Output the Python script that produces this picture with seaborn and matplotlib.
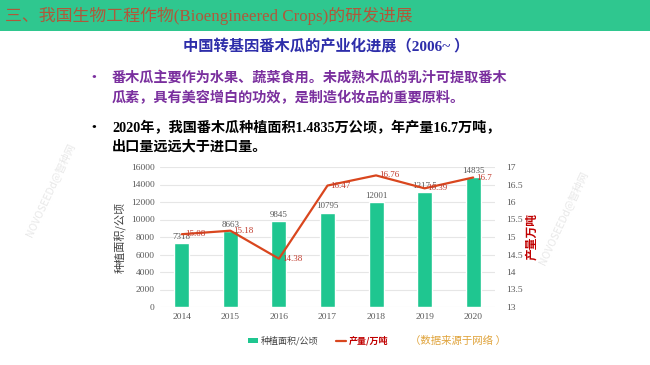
import numpy as np
import pandas as pd
import matplotlib
matplotlib.use("Agg")
import matplotlib.pyplot as plt
import seaborn as sns
from matplotlib.patches import Rectangle
from matplotlib.lines import Line2D
from matplotlib.patches import Patch

years = ["2014", "2015", "2016", "2017", "2018", "2019", "2020"]
area = [7318, 8663, 9845, 10795, 12001, 13175, 14835]
area_labels = ["7318", "8663", "9845", "10795", "12001", "1317.5", "14835"]
production = [15.08, 15.18, 14.38, 16.47, 16.76, 16.39, 16.7]
prod_labels = ["15.08", "15.18", "14.38", "16.47", "16.76", "16.39", "16.7"]

left_ticks = [0, 2000, 4000, 6000, 8000, 10000, 12000, 14000, 16000]
right_ticks = [13, 13.5, 14, 14.5, 15, 15.5, 16, 16.5, 17]

header_text = "三、我国生物工程作物(Bioengineered Crops)的研发进展"
subtitle = "中国转基因番木瓜的产业化进展（2006~ ）"
bullet1 = ["番木瓜主要作为水果、蔬菜食用。未成熟木瓜的乳汁可提取番木",
           "瓜素，具有美容增白的功效，是制造化妆品的重要原料。"]
bullet2 = ["2020年，我国番木瓜种植面积1.4835万公顷，年产量16.7万吨，",
           "出口量远远大于进口量。"]
left_label = "种植面积/公顷"
right_label = "产量万吨"
legend_labels = ["种植面积/公顷", "产量/万吨"]
source = "（数据来源于网络 ）"
watermark = "NOVOSEEDd@智种网"

sns.set_theme(style="white")
plt.rcParams['font.family'] = ['Liberation Serif', 'Noto Sans CJK SC', 'DejaVu Sans']
CJK = ['Noto Sans CJK SC', 'DejaVu Sans']
SERIF = ['Liberation Serif', 'Noto Sans CJK SC', 'DejaVu Sans']

W, H = 650, 365
fig = plt.figure(figsize=(6.5, 3.65), dpi=100)
fig.patch.set_facecolor("white")

def fx(x):
    return x / W

def fy(y):
    return 1 - y / H

# header band
fig.patches.append(Rectangle((0, fy(31)), 1, 31 / H, transform=fig.transFigure,
                             facecolor="#2fc78f", edgecolor="none", zorder=0))
fig.text(fx(5), fy(16), header_text, family=SERIF, fontsize=12.2, color="#b0583a",
         va="center", ha="left")
fig.text(fx(326), fy(47), subtitle, family=SERIF, fontsize=11, color="#2e2eaa",
         fontweight="bold", va="center", ha="center")

purple = "#7a2f9e"
for i, line in enumerate(bullet1):
    fig.text(fx(112), fy(78 + 20 * i), line, family=CJK, fontsize=10.2, color=purple,
             fontweight="bold", va="center", ha="left")
fig.text(fx(94), fy(78), "•", family=CJK, fontsize=12, color=purple, va="center", ha="center")
for i, line in enumerate(bullet2):
    fig.text(fx(112), fy(128 + 19 * i), line, family=SERIF, fontsize=10.2, color="black",
             fontweight="bold", va="center", ha="left")
fig.text(fx(94), fy(128), "•", family=CJK, fontsize=12, color="black", va="center", ha="center")

# watermarks
fig.text(fx(50), fy(190), watermark, family=CJK, fontsize=7.5, color="#e8e8e8",
         rotation=65, ha="center", va="center")
fig.text(fx(563), fy(218), watermark, family=CJK, fontsize=7.5, color="#e8e8e8",
         rotation=65, ha="center", va="center")

# chart
bar_color = "#1fc690"
line_color = "#d9461e"
ax = fig.add_axes([fx(160), fy(307), (495 - 160) / W, (307 - 167) / H])
df = pd.DataFrame({"year": years, "area": area, "production": production})
sns.barplot(data=df, x="year", y="area", color=bar_color, width=0.31, ax=ax,
            saturation=1, zorder=2)
ax.set_xlim(-0.45, 6.45)
ax.set_ylim(0, 16000)
ax.set_yticks(left_ticks)
ax.yaxis.grid(True, color="#e6e6e6", linewidth=0.8, zorder=0)
ax.set_axisbelow(True)
for s in ax.spines.values():
    s.set_visible(False)
ax.tick_params(axis="both", length=0, labelsize=6.8, labelcolor="#595959", pad=4)
for lab in ax.get_xticklabels() + ax.get_yticklabels():
    lab.set_family(SERIF)
ax.set_xlabel("")
ax.set_ylabel(left_label, family=CJK, fontsize=8, color="#404040", labelpad=3)
for i, (v, t) in enumerate(zip(area, area_labels)):
    ax.text(i, v + 250, t, family=SERIF, fontsize=6.5, color="#595959",
            ha="center", va="bottom")

ax2 = ax.twinx()
sns.lineplot(x=np.arange(len(years)), y=production, ax=ax2, color=line_color,
             linewidth=1.6, zorder=3)
ax2.set_ylim(13, 17)
ax2.set_yticks(right_ticks)
ax2.set_yticklabels([f"{t:g}" for t in right_ticks])
for s in ax2.spines.values():
    s.set_visible(False)
ax2.tick_params(axis="y", length=0, labelsize=6.8, labelcolor="#595959", pad=8)
for lab in ax2.get_yticklabels():
    lab.set_family(SERIF)
ax2.set_ylabel(right_label, family=CJK, fontsize=8.5, color="#c00000",
               fontweight="bold", rotation=90, labelpad=2)
for i, (v, t) in enumerate(zip(production, prod_labels)):
    ax2.text(i + 0.06, v, t, family=SERIF, fontsize=6.5, color="#c0392b",
             ha="left", va="center", zorder=4)

# legend
handles = [Patch(facecolor=bar_color, edgecolor="none"),
           Line2D([0], [0], color=line_color, linewidth=1.6)]
leg = fig.legend(handles, legend_labels, loc="center", bbox_to_anchor=(fx(318), fy(341)),
                 ncol=2, frameon=False, prop={"family": CJK, "size": 6.5},
                 handlelength=1.1, handleheight=0.5, columnspacing=2.0, handletextpad=0.3)
texts = leg.get_texts()
texts[0].set_color("#404040")
texts[1].set_color("#c00000")
texts[1].set_fontweight("bold")

fig.text(fx(458), fy(341), source, family=SERIF, fontsize=7.5, color="#e0a33a",
         ha="center", va="center")

fig.savefig("out.png", dpi=100, facecolor="white")
